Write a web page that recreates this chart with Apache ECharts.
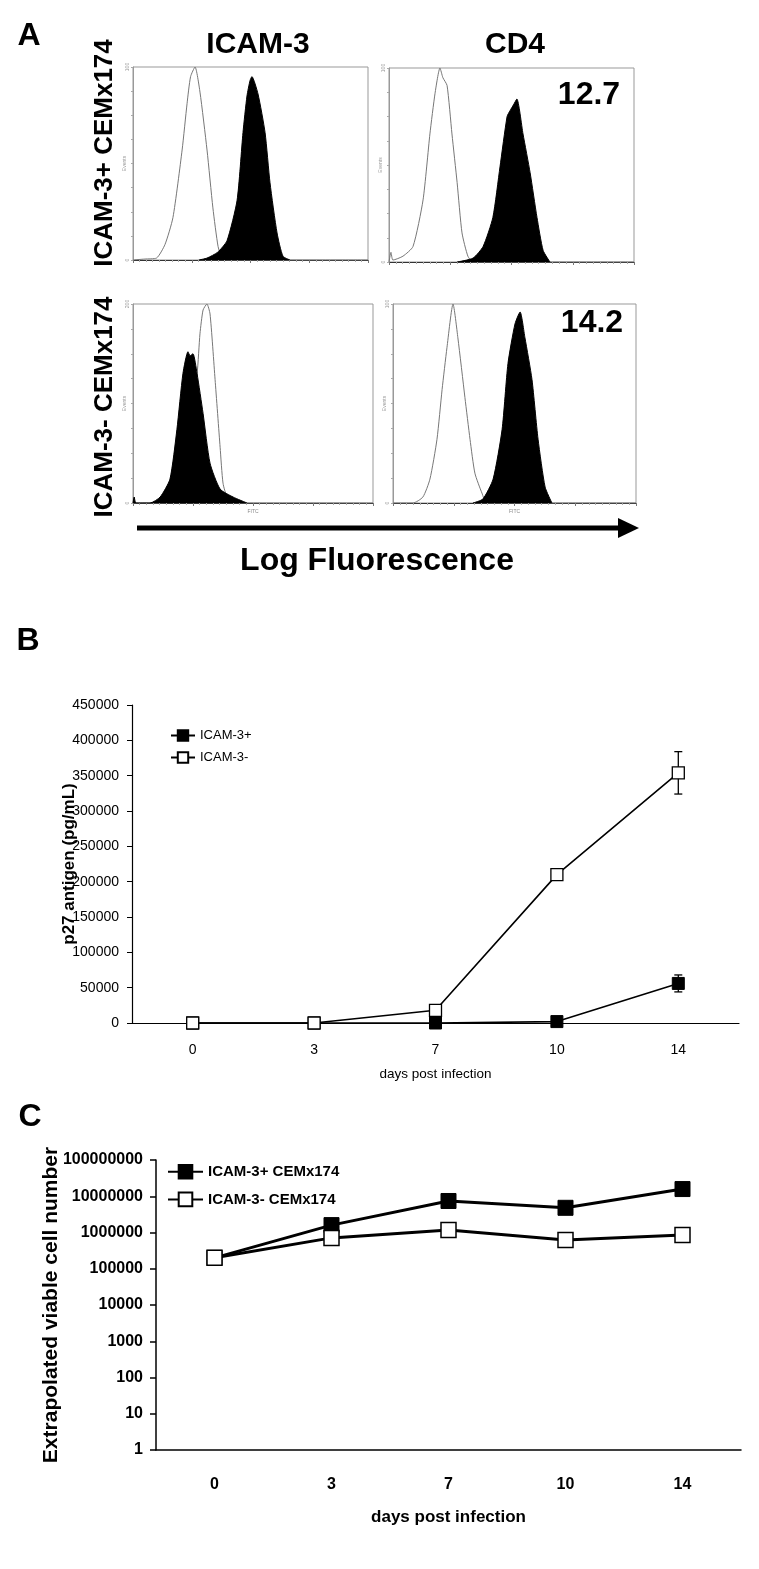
<!DOCTYPE html>
<html>
<head>
<meta charset="utf-8">
<script src="https://cdn.jsdelivr.net/npm/echarts@6/dist/echarts.min.js"></script>
<style>
html,body{margin:0;padding:0;background:#fff;}
#main{width:759px;height:1569px;}
</style>
</head>
<body>
<div id="main"></div>
<script>
// ---- panel A: flow histograms, x = % along log FITC axis, y = % of max events
var isoTL  = [[0,0],[5,0.5],[10,1],[13.6,8],[17,22],[20.9,57],[23,81],[24.5,95],[26.4,100],[28.5,87],[31.5,57],[34,27],[36.2,7],[37.9,1],[40,0],[100,0]];
var stainTL= [[28,0],[31.5,1],[36,4],[40,10],[44.3,31],[46.8,66],[48.5,85],[49.8,93],[50.6,95],[53.2,86],[56.2,66],[58.3,40],[61.3,14],[63.8,2],[66.8,0]];
var isoTR  = [[0,0],[0.8,5],[1.6,1],[5.7,3],[9.8,8],[13.9,32],[16.7,66],[18.8,87],[20.8,100],[22,95],[23.7,91],[25.7,66],[27.8,41],[29.8,15],[32.2,3],[34.3,0],[100,0]];
var stainTR= [[27.8,0],[34.3,2],[38.4,8],[42.4,23],[45.3,49],[48.2,75],[49.4,78],[50.8,81],[52.2,84],[54.7,66],[57.6,46],[60.4,23],[62.9,6],[65.7,0]];
var isoBL  = [[0,0],[13.3,0],[17.5,5],[20.8,25],[23.8,45],[26.7,65],[27.9,85],[29.2,97],[30.8,100],[32.1,95],[34.2,62],[36.3,28],[37.5,10],[39.2,3],[41.7,1],[44.6,0],[100,0]];
var stainBL= [[0,0],[0.5,3],[1.2,0],[7.1,0],[11.3,3],[15.4,12],[18.3,37],[20.8,65],[22.9,76],[23.8,74],[25,75],[26.7,65],[29.2,45],[32.1,20],[36.3,7],[41.7,3],[47.5,0]];
var isoBR  = [[0,0],[8.2,0],[12.3,3],[15.2,12],[18.1,32],[20.2,57],[22.2,78],[24.7,100],[26.7,83],[29.6,53],[31.7,32],[33.7,15],[36.6,5],[38.7,0],[100,0]];
var stainBR= [[32.9,0],[37,2],[41.2,12],[44.9,37],[47.3,70],[50.2,90],[52.3,96],[54.3,83],[57.2,62],[59.7,32],[62.6,8],[65.4,0]];
var histMaxLabel = ['100','100','200','100'];
var mfiLabels = ['12.7','14.2'];

// ---- panel B: p27 antigen
var days = ['0','3','7','10','14'];
var p27Pos = [0,0,0,2000,56000];
var p27PosErr = [0,0,0,0,12000];
var p27Neg = [0,0,18000,210000,354000];
var p27NegErr = [0,0,0,0,30000];

// ---- panel C: viable cell number (log)
var cellPos = [200000,1600000,7400000,4800000,15800000];
var cellNeg = [200000,710000,1170000,620000,850000];

var SANS = "'Liberation Sans',Arial,sans-serif";

var chart = echarts.init(document.getElementById('main'));

var histGrids = [
  {left:133, top:67, width:235, height:193},
  {left:389, top:68, width:245, height:194},
  {left:133, top:304, width:240, height:199},
  {left:393, top:304, width:243, height:199}
];
var histData = [[isoTL,stainTL],[isoTR,stainTR],[isoBL,stainBL],[isoBR,stainBR]];

var grids = [], xAxes = [], yAxes = [], series = [];
histGrids.forEach(function(g, i){
  grids.push({left:g.left, top:g.top, width:g.width, height:g.height, show:true, borderColor:'#999', borderWidth:1, backgroundColor:'transparent'});
  xAxes.push({
    type:'value', gridIndex:i, min:0, max:100, interval:25,
    name: i >= 2 ? 'FITC' : '', nameLocation:'middle', nameGap:6,
    nameTextStyle:{fontSize:5, color:'#888'},
    axisLine:{lineStyle:{color:'#333', width:1}},
    axisTick:{show:true, length:3, lineStyle:{color:'#777'}},
    minorTick:{show:true, splitNumber:9, length:2, lineStyle:{color:'#aaa'}},
    axisLabel:{show:false}, splitLine:{show:false}
  });
  yAxes.push({
    type:'value', gridIndex:i, min:0, max:100, interval:12.5,
    name:'Events', nameLocation:'middle', nameGap:6, nameMoveOverlap:false,
    nameTextStyle:{fontSize:5, color:'#999'},
    axisLine:{lineStyle:{color:'#999'}},
    axisTick:{length:2, lineStyle:{color:'#aaa'}},
    axisLabel:{fontSize:5, color:'#999', margin:3, rotate:90,
      formatter:function(v){ return v === 0 ? '0' : (v === 100 ? histMaxLabel[i] : ''); }},
    splitLine:{show:false}
  });
  series.push({
    name:'iso'+i, type:'line', xAxisIndex:i, yAxisIndex:i, data:histData[i][0], smooth:0.2,
    showSymbol:false, symbol:'none', lineStyle:{color:'#777', width:1}, silent:true, z:2
  });
  series.push({
    name:'stain'+i, type:'line', xAxisIndex:i, yAxisIndex:i, data:histData[i][1], smooth:0.2,
    showSymbol:false, symbol:'none', lineStyle:{color:'#000', width:1},
    areaStyle:{color:'#000', opacity:1}, silent:true, z:3
  });
});

// panel B grid
grids.push({left:132, top:705, width:607, height:318});
xAxes.push({
  type:'category', gridIndex:4, data:days, boundaryGap:true,
  name:'days post infection', nameLocation:'middle', nameGap:44,
  nameTextStyle:{fontSize:13.5, color:'#000'},
  axisLine:{lineStyle:{color:'#000', width:1.2}},
  axisTick:{length:5, lineStyle:{color:'#000'}},
  axisLabel:{fontSize:14, color:'#000', margin:20}
});
yAxes.push({
  type:'value', gridIndex:4, min:0, max:450000, interval:50000,
  name:'p27 antigen (pg/mL)', nameLocation:'middle', nameGap:54, nameMoveOverlap:false,
  nameTextStyle:{fontSize:17, fontWeight:'bold', color:'#000'},
  axisLine:{show:true, lineStyle:{color:'#000', width:1.2}},
  axisTick:{show:true, length:5, lineStyle:{color:'#000'}},
  axisLabel:{fontSize:14, color:'#000', margin:13, formatter:function(v){return String(v);}},
  splitLine:{show:false}
});

// panel C grid
grids.push({left:156, top:1160, width:585, height:290});
xAxes.push({
  type:'category', gridIndex:5, data:days, boundaryGap:true,
  name:'days post infection', nameLocation:'middle', nameGap:59,
  nameTextStyle:{fontSize:17, fontWeight:'bold', color:'#000'},
  axisLine:{lineStyle:{color:'#000', width:1.5}},
  axisTick:{length:6, lineStyle:{color:'#000', width:1.5}},
  axisLabel:{fontSize:16, fontWeight:'bold', color:'#000', margin:27}
});
yAxes.push({
  type:'log', gridIndex:5, logBase:10, min:1, max:100000000,
  name:'Extrapolated viable cell number', nameLocation:'middle', nameGap:94, nameMoveOverlap:false,
  nameTextStyle:{fontSize:21, fontWeight:'bold', color:'#000'},
  axisLine:{show:true, lineStyle:{color:'#000', width:1.5}},
  axisTick:{show:true, length:6, lineStyle:{color:'#000', width:1.5}},
  axisLabel:{fontSize:16, fontWeight:'bold', color:'#000', margin:13,
    formatter:function(v){return String(Math.round(v));}},
  splitLine:{show:false}
});

function errRender(params, api){
  var err = api.value(2);
  if(!err) return;
  var i = api.value(0), v = api.value(1);
  var hi = api.coord([i, v+err]), lo = api.coord([i, v-err]);
  var w = 4, st = {stroke:'#000', lineWidth:1.3};
  return {type:'group', children:[
    {type:'line', shape:{x1:hi[0], y1:hi[1], x2:lo[0], y2:lo[1]}, style:st},
    {type:'line', shape:{x1:hi[0]-w, y1:hi[1], x2:hi[0]+w, y2:hi[1]}, style:st},
    {type:'line', shape:{x1:lo[0]-w, y1:lo[1], x2:lo[0]+w, y2:lo[1]}, style:st}
  ]};
}

series.push({
  name:'errPos', type:'custom', xAxisIndex:4, yAxisIndex:4, renderItem:errRender, silent:true, z:1,
  data:days.map(function(d,i){return [i, p27Pos[i], p27PosErr[i]];})
});
series.push({
  name:'errNeg', type:'custom', xAxisIndex:4, yAxisIndex:4, renderItem:errRender, silent:true, z:1,
  data:days.map(function(d,i){return [i, p27Neg[i], p27NegErr[i]];})
});
series.push({
  name:'ICAM-3+', type:'line', xAxisIndex:4, yAxisIndex:4, data:p27Pos,
  symbol:'rect', symbolSize:12, showAllSymbol:true,
  lineStyle:{color:'#000', width:1.6}, itemStyle:{color:'#000', borderColor:'#000', borderWidth:1}, z:3
});
series.push({
  name:'ICAM-3-', type:'line', xAxisIndex:4, yAxisIndex:4, data:p27Neg,
  symbol:'rect', symbolSize:12, showAllSymbol:true,
  lineStyle:{color:'#000', width:1.6}, itemStyle:{color:'#fff', borderColor:'#000', borderWidth:1.3}, z:4
});
series.push({
  name:'ICAM-3+ CEMx174', type:'line', xAxisIndex:5, yAxisIndex:5, data:cellPos,
  symbol:'rect', symbolSize:15, showAllSymbol:true,
  lineStyle:{color:'#000', width:3}, itemStyle:{color:'#000', borderColor:'#000', borderWidth:1}, z:3
});
series.push({
  name:'ICAM-3- CEMx174', type:'line', xAxisIndex:5, yAxisIndex:5, data:cellNeg,
  symbol:'rect', symbolSize:15, showAllSymbol:true,
  lineStyle:{color:'#000', width:3}, itemStyle:{color:'#fff', borderColor:'#000', borderWidth:1.5}, z:4
});

function txt(text, x, y, size, opts){
  opts = opts || {};
  return {
    type:'text', x:x, y:y, rotation:opts.rot || 0, z:10,
    style:{text:text, fill:'#000', fontSize:size, fontWeight:opts.weight || 'bold',
      fontFamily:SANS, align:'center', verticalAlign:'middle',
      textAlign:'center', textVerticalAlign:'middle'}
  };
}

var graphics = [
  txt('A', 29, 36, 32),
  txt('ICAM-3', 258, 45, 30),
  txt('CD4', 515, 45, 30),
  txt('ICAM-3+ CEMx174', 105, 153, 26, {rot:Math.PI/2}),
  txt('ICAM-3- CEMx174', 105, 407, 26, {rot:Math.PI/2}),
  txt(mfiLabels[0], 589, 95, 32),
  txt(mfiLabels[1], 592, 323, 32),
  {type:'line', shape:{x1:137, y1:528, x2:622, y2:528}, style:{stroke:'#000', lineWidth:5}},
  {type:'polygon', shape:{points:[[618,518],[639,528],[618,538]]}, style:{fill:'#000'}},
  txt('Log Fluorescence', 377, 561, 32),
  txt('B', 28, 641, 32),
  txt('C', 30, 1117, 32)
];

var option = {
  animation:false,
  backgroundColor:'#fff',
  textStyle:{fontFamily:SANS},
  grid:grids,
  xAxis:xAxes,
  yAxis:yAxes,
  legend:[{
    data:['ICAM-3+','ICAM-3-'], orient:'vertical', left:170, top:729, padding:0,
    itemWidth:24, itemHeight:13, itemGap:9, selectedMode:false,
    textStyle:{fontSize:13, color:'#000'}
  },{
    data:['ICAM-3+ CEMx174','ICAM-3- CEMx174'], orient:'vertical', left:167, top:1164, padding:0,
    itemWidth:35, itemHeight:17, itemGap:12, selectedMode:false,
    textStyle:{fontSize:15, fontWeight:'bold', color:'#000'}
  }],
  graphic:graphics,
  series:series
};
chart.setOption(option);
window.addEventListener('resize', function(){ chart.resize(); });
</script>
</body>
</html>
